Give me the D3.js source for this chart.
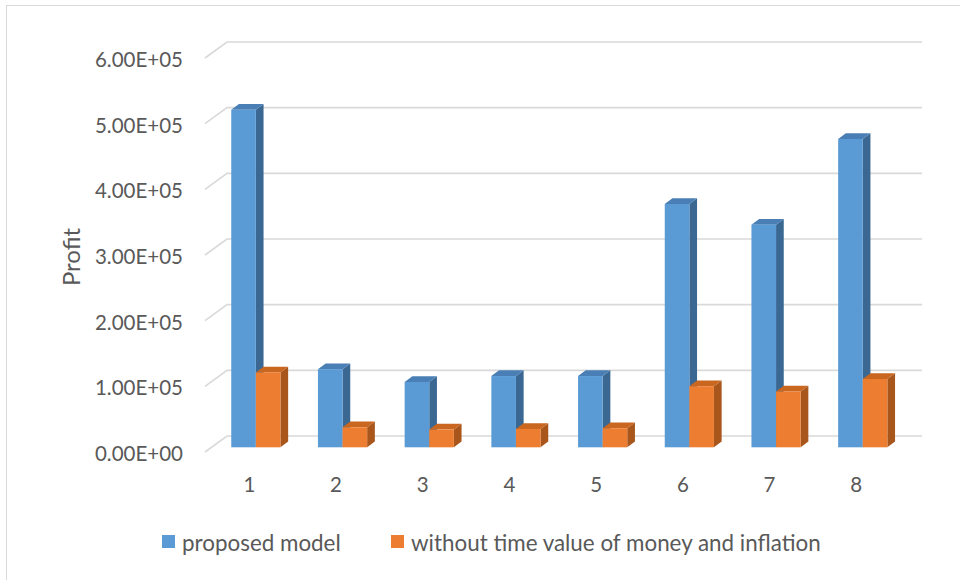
<!DOCTYPE html>
<html><head><meta charset="utf-8">
<script src="https://cdn.jsdelivr.net/npm/d3@7"></script>
<style>body{margin:0;background:#fff}svg{display:block}</style>
</head><body>
<svg id="c" width="960" height="580"></svg>
<script>
const categories = ["1","2","3","4","5","6","7","8"];
const proposed = [514000, 119000, 99500, 108500, 108500, 370500, 339000, 469500];
const withoutTV = [114000, 30500, 27000, 28000, 29000, 93000, 85000, 104000];
const seriesNames = ["proposed model", "without time value of money and inflation"];
const yTicks = [0, 100000, 200000, 300000, 400000, 500000, 600000];
const yTickLabels = ["0.00E+00","1.00E+05","2.00E+05","3.00E+05","4.00E+05","5.00E+05","6.00E+05"];
const yTitle = "Profit";

const svg = d3.select("#c");
const font = "Lato, 'Open Sans', sans-serif";
const txt = "#595959";

// border
svg.append("rect").attr("x",6.5).attr("y",5.5).attr("width",1200).attr("height",1200)
  .attr("fill","none").attr("stroke","#d9d9d9").attr("stroke-width",1);

const y = d3.scaleLinear().domain([0,600000]).range([452,58]);
const x = d3.scaleBand().domain(categories).range([206,899.6]);
const wall = {dx:22, dy:-16};
const front = {dx:6.5, dy:-4.7};
const depth = {dx:7.7, dy:-5.7};
const barW = 24.6;

// gridlines (wall)
const g = svg.append("g");
yTicks.forEach((t,i)=>{
  const yy = y(t);
  g.append("path")
   .attr("d", `M205,${yy}L${205+wall.dx},${yy+wall.dy}L922,${yy+wall.dy}`)
   .attr("fill","none").attr("stroke","#d9d9d9").attr("stroke-width",1.6);
  svg.append("text").attr("x",183).attr("y",yy+1).attr("text-anchor","end")
   .attr("dominant-baseline","central").attr("font-family",font).attr("font-size",20.5)
   .attr("fill",txt).text(yTickLabels[i]);
});

const colors = [
  {front:"#5b9bd5", top:"#4a7fb6", side:"#3b6893"},
  {front:"#ed7d31", top:"#c9661f", side:"#a8561c"}
];
const bars = svg.append("g");
categories.forEach((c,ci)=>{
  [proposed[ci], withoutTV[ci]].forEach((v,si)=>{
    const cx = x(c) + x.bandwidth()/2;
    const x0 = cx - barW + si*barW + front.dx;
    const yt = y(v) + front.dy, yb = y(0) + front.dy;
    const col = colors[si];
    bars.append("path").attr("d",
      `M${x0+barW},${yt}L${x0+barW+depth.dx},${yt+depth.dy}L${x0+barW+depth.dx},${yb+depth.dy}L${x0+barW},${yb}Z`)
      .attr("fill",col.side);
    bars.append("path").attr("d",
      `M${x0},${yt}L${x0+depth.dx},${yt+depth.dy}L${x0+barW+depth.dx},${yt+depth.dy}L${x0+barW},${yt}Z`)
      .attr("fill",col.top);
    bars.append("rect").attr("x",x0).attr("y",yt).attr("width",barW).attr("height",yb-yt)
      .attr("fill",col.front);
  });
  svg.append("text").attr("x",x(c)+x.bandwidth()/2).attr("y",484)
    .attr("text-anchor","middle").attr("dominant-baseline","central")
    .attr("font-family",font).attr("font-size",20.5).attr("fill",txt).text(c);
});

svg.append("text").attr("transform","translate(70,257) rotate(-90)")
  .attr("text-anchor","middle").attr("dominant-baseline","central")
  .attr("font-family",font).attr("font-size",24).attr("fill",txt).text(yTitle);

// legend
const legX = [162, 391];
seriesNames.forEach((n,i)=>{
  svg.append("rect").attr("x",legX[i]).attr("y",535).attr("width",13).attr("height",13)
    .attr("fill",colors[i].front);
  svg.append("text").attr("x",legX[i]+20).attr("y",542).attr("dominant-baseline","central")
    .attr("font-family",font).attr("font-size",22.4).attr("fill",txt).text(n);
});
</script>
</body></html>
